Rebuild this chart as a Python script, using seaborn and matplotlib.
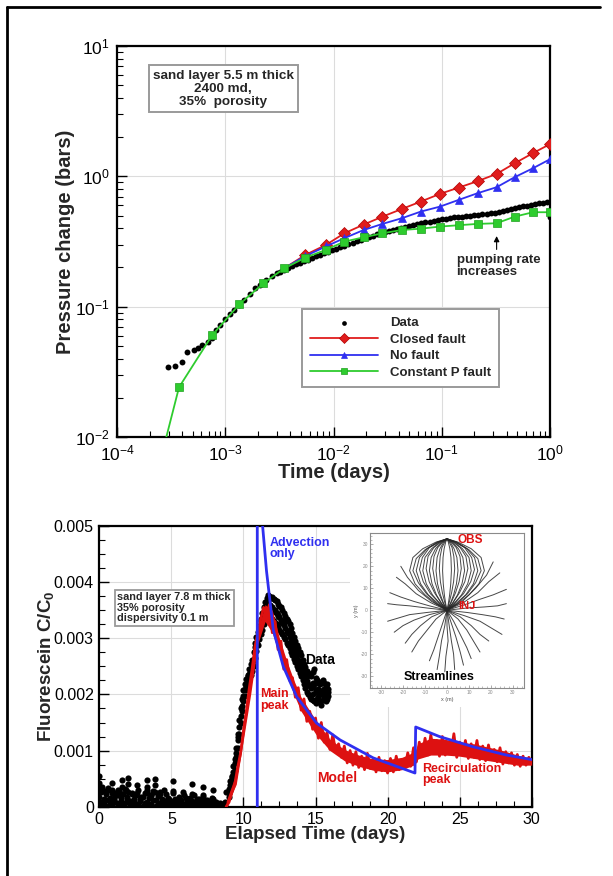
import matplotlib
matplotlib.use("Agg")
import matplotlib.pyplot as plt
from matplotlib.ticker import AutoMinorLocator, MultipleLocator, FuncFormatter
from matplotlib.patches import Rectangle
from matplotlib.lines import Line2D
import seaborn as sns

# ---------------- top panel: pressure change vs time ----------------
data_t = [2.94e-4, 3.43e-4, 4.0e-4, 4.46e-4, 5.14e-4, 5.56e-4, 6.05e-4, 6.97e-4,
          7.5e-4, 8.2e-4, 9.0e-4, 1.0e-3, 1.1e-3, 1.2e-3, 1.35e-3, 1.5e-3, 1.7e-3,
          1.9e-3, 2.1e-3, 2.4e-3, 2.7e-3, 3.0e-3,
          0.0032, 0.0035, 0.0038, 0.0041, 0.0045, 0.0049, 0.0053, 0.0058, 0.0063, 0.0069,
          0.0075, 0.0082, 0.0089, 0.0097, 0.0106, 0.0115, 0.0126, 0.0137, 0.0150, 0.0163,
          0.0178, 0.0194, 0.0211, 0.023, 0.025, 0.0273, 0.0298, 0.0325, 0.0354, 0.0386,
          0.042, 0.0458, 0.05, 0.0545, 0.0594, 0.0648, 0.0706, 0.077, 0.084, 0.0915,
          0.0998, 0.109, 0.119, 0.129, 0.141, 0.154, 0.168, 0.183, 0.2, 0.218,
          0.237, 0.259, 0.282, 0.307, 0.335, 0.365, 0.398, 0.434, 0.473, 0.516,
          0.562, 0.613, 0.668, 0.729, 0.794, 0.866, 0.944, 1.0, 1.0]
data_p = [0.0343, 0.0353, 0.0379, 0.0452, 0.0466, 0.0481, 0.0509, 0.054,
          0.058, 0.066, 0.072, 0.080, 0.088, 0.095, 0.103, 0.113, 0.126,
          0.138, 0.148, 0.160, 0.172, 0.180,
          0.186, 0.192, 0.198, 0.204, 0.211, 0.218, 0.224, 0.230, 0.236, 0.243,
          0.250, 0.257, 0.264, 0.271, 0.279, 0.286, 0.294, 0.302, 0.310, 0.318,
          0.326, 0.334, 0.343, 0.351, 0.359, 0.367, 0.375, 0.383, 0.390, 0.397,
          0.404, 0.411, 0.418, 0.425, 0.432, 0.438, 0.444, 0.450, 0.456, 0.462,
          0.468, 0.474, 0.479, 0.484, 0.488, 0.492, 0.496, 0.500, 0.504, 0.508,
          0.512, 0.516, 0.520, 0.524, 0.530, 0.538, 0.548, 0.558, 0.568, 0.578,
          0.588, 0.596, 0.604, 0.612, 0.620, 0.628, 0.634, 0.640, 0.49]

model_t = [3.5e-3, 5.5e-3, 8.5e-3, 0.0126, 0.019, 0.0283, 0.0429, 0.064, 0.096,
           0.143, 0.214, 0.321, 0.471, 0.697, 1.0]
closed_p = [0.197, 0.25, 0.298, 0.366, 0.427, 0.491, 0.563, 0.641, 0.734,
            0.820, 0.919, 1.045, 1.26, 1.51, 1.77]
nofault_p = [0.197, 0.245, 0.29, 0.336, 0.388, 0.432, 0.478, 0.537, 0.586,
             0.660, 0.743, 0.826, 0.986, 1.156, 1.355]

constp_t = [2.5e-4, 3.74e-4, 7.6e-4, 1.35e-3, 2.25e-3, 3.5e-3, 5.5e-3, 8.5e-3, 0.0126,
            0.019, 0.0283, 0.0429, 0.064, 0.096, 0.143, 0.214, 0.321, 0.471, 0.697, 1.0]
constp_p = [0.0065, 0.0241, 0.0608, 0.1045, 0.151, 0.197, 0.238, 0.273, 0.316,
            0.341, 0.366, 0.388, 0.397, 0.412, 0.422, 0.432, 0.437, 0.491, 0.531, 0.531]

# ---------------- bottom panel: tracer breakthrough (C/C0 in units of 1e-3) ----------------
# background noise before arrival
noise_day = [0.0, 0.15, 0.3, 0.45, 0.6, 0.75, 0.9, 1.05, 1.2, 1.35, 1.5, 1.65, 1.8, 1.95, 2.1,
             2.25, 2.4, 2.55, 2.7, 2.85, 3.0, 3.15, 3.3, 3.45, 3.6, 3.75, 3.9, 4.05, 4.2, 4.35,
             4.5, 4.65, 4.8, 4.95, 5.1, 5.25, 5.4, 5.55, 5.7, 5.85, 6.0, 6.15, 6.3, 6.45, 6.6,
             6.75, 6.9, 7.05, 7.2, 7.35, 7.5, 7.65, 7.8, 7.95, 8.1, 8.25, 8.4, 8.55, 8.7]
noise_low = [0.03, 0.08, 0.05, 0.12, 0.02, 0.09, 0.04, 0.15, 0.06, 0.03, 0.10, 0.02, 0.07, 0.13, 0.04,
             0.01, 0.09, 0.05, 0.03, 0.11, 0.02, 0.06, 0.08, 0.03, 0.05, 0.12, 0.02, 0.04, 0.07, 0.03,
             0.09, 0.02, 0.05, 0.03, 0.08, 0.01, 0.04, 0.06, 0.02, 0.05, 0.03, 0.01, 0.07, 0.02, 0.04,
             0.01, 0.03, 0.06, 0.02, 0.01, 0.04, 0.02, 0.03, 0.01, 0.02, 0.01, 0.03, 0.01, 0.02]
noise_mid = [0.18, 0.26, 0.14, 0.22, 0.30, 0.16, 0.24, 0.12, 0.20, 0.28, 0.15, 0.23, 0.32, 0.18, 0.11,
             0.25, 0.14, 0.20, 0.29, 0.13, 0.17, 0.24, 0.30, 0.15, 0.21, 0.28, 0.12, 0.19, 0.26, 0.14,
             0.10, 0.22, 0.16, 0.11, 0.25, 0.13, 0.09, 0.18, 0.12, 0.20, 0.15, 0.08, 0.16, 0.11, 0.21,
             0.09, 0.14, 0.10, 0.18, 0.08, 0.12, 0.06, 0.15, 0.07, 0.09, 0.05, 0.06, 0.04, 0.08]
# scattered spikes of the noise and the main peak
spike_day = [0.0, 0.0, 0.0, 0.2, 0.4, 0.6, 0.85, 0.85, 1.1, 1.3, 1.6, 1.6, 1.6, 1.85,
             2.0, 2.0, 2.0, 2.3, 2.6, 2.6, 2.9, 3.3, 3.3, 3.3, 3.6, 3.85, 3.85, 3.85,
             4.2, 4.5, 4.8, 5.1, 5.1, 5.5, 5.8, 6.1, 6.4, 6.4, 6.8, 7.2, 7.2, 7.5, 7.9, 7.9,
             8.8, 9.2, 9.5, 9.6, 10.35, 10.5, 10.8, 10.95, 11.25, 11.4, 11.55, 11.7, 11.85,
             12.0, 12.2, 12.4, 12.8, 13.2, 13.6, 14.0, 14.4, 14.8, 14.8, 15.0, 15.2, 15.4, 15.6, 15.8]
spike_c = [0.55, 0.42, 0.30, 0.35, 0.28, 0.33, 0.42, 0.30, 0.25, 0.30, 0.48, 0.36, 0.22, 0.30,
           0.52, 0.40, 0.26, 0.22, 0.38, 0.25, 0.18, 0.48, 0.36, 0.24, 0.20, 0.50, 0.38, 0.26,
           0.22, 0.30, 0.14, 0.45, 0.28, 0.12, 0.26, 0.10, 0.40, 0.22, 0.14, 0.36, 0.20, 0.10, 0.30, 0.14,
           0.27, 0.53, 0.89, 1.25, 2.32, 2.40, 2.85, 2.90, 3.30, 3.45, 3.55, 3.68, 3.60,
           3.55, 3.50, 3.42, 3.30, 3.15, 2.90, 2.60, 2.32, 2.20, 2.00, 2.05, 2.10, 2.00, 2.10, 2.02]
peak_day = [9.0, 9.1, 9.2, 9.3, 9.4, 9.5, 9.6, 9.7, 9.8, 9.9, 10.0, 10.1, 10.2, 10.3, 10.4,
            10.5, 10.6, 10.7, 10.8, 10.9, 11.0, 11.1, 11.2, 11.3, 11.4, 11.5, 11.6, 11.7, 11.8,
            11.9, 12.0, 12.1, 12.2, 12.3, 12.4, 12.5, 12.6, 12.7, 12.8, 12.9, 13.0, 13.1, 13.2,
            13.3, 13.4, 13.5, 13.6, 13.7, 13.8, 13.9, 14.0, 14.1, 14.2, 14.3, 14.4, 14.5, 14.6,
            14.7, 14.8, 14.9, 15.0, 15.1, 15.2, 15.3, 15.4, 15.5, 15.6, 15.7, 15.8, 15.9]
peak_hi = [0.32, 0.45, 0.55, 0.72, 0.85, 1.05, 1.30, 1.55, 1.75, 1.92, 2.08, 2.18, 2.28, 2.35, 2.45,
           2.55, 2.62, 2.75, 2.92, 3.02, 3.12, 3.22, 3.35, 3.45, 3.55, 3.65, 3.72, 3.78, 3.75,
           3.72, 3.74, 3.70, 3.68, 3.66, 3.62, 3.58, 3.55, 3.50, 3.45, 3.40, 3.35, 3.30, 3.25,
           3.18, 3.10, 3.02, 2.95, 2.88, 2.82, 2.75, 2.70, 2.62, 2.55, 2.48, 2.42, 2.38, 2.35,
           2.32, 2.40, 2.45, 2.30, 2.25, 2.20, 2.18, 2.22, 2.25, 2.20, 2.15, 2.18, 2.10]
peak_mid = [0.25, 0.38, 0.50, 0.62, 0.78, 0.95, 1.18, 1.42, 1.62, 1.80, 1.98, 2.10, 2.16, 2.26, 2.36,
            2.44, 2.55, 2.62, 2.78, 2.92, 3.00, 3.08, 3.22, 3.30, 3.42, 3.48, 3.58, 3.62, 3.58,
            3.55, 3.52, 3.50, 3.46, 3.45, 3.40, 3.38, 3.32, 3.28, 3.24, 3.18, 3.12, 3.10, 3.02,
            2.96, 2.90, 2.82, 2.76, 2.70, 2.62, 2.58, 2.50, 2.44, 2.36, 2.30, 2.24, 2.18, 2.15,
            2.12, 2.15, 2.18, 2.08, 2.05, 2.08, 2.02, 2.05, 2.08, 2.05, 2.00, 2.05, 2.04]
peak_lo = [0.18, 0.30, 0.40, 0.55, 0.65, 0.85, 1.05, 1.30, 1.50, 1.70, 1.88, 1.98, 2.08, 2.15, 2.25,
           2.35, 2.42, 2.50, 2.65, 2.78, 2.88, 2.98, 3.08, 3.15, 3.25, 3.32, 3.38, 3.42, 3.40,
           3.36, 3.35, 3.30, 3.28, 3.25, 3.20, 3.15, 3.12, 3.08, 3.02, 2.98, 2.92, 2.88, 2.82,
           2.76, 2.70, 2.64, 2.58, 2.50, 2.45, 2.38, 2.32, 2.25, 2.18, 2.12, 2.05, 2.00, 1.95,
           1.92, 1.90, 1.88, 1.85, 1.92, 1.95, 1.88, 1.82, 1.90, 1.95, 1.88, 1.92, 1.98]

# noisy model trace and the body of its band
model_day = [8.8, 9.0, 9.2, 9.4, 9.6, 9.8, 10.0, 10.2, 10.4, 10.6, 10.8, 11.0, 11.2, 11.4,
             11.6, 11.8, 12.0, 12.2, 12.4, 12.6, 12.8, 13.0, 13.2, 13.4, 13.6, 13.8, 14.0,
             14.2, 14.4, 14.6, 14.8, 15.0, 15.2, 15.4, 15.6, 15.8, 16.0, 16.2, 16.4, 16.6,
             16.8, 17.0, 17.2, 17.4, 17.6, 17.8, 18.0, 18.2, 18.4, 18.6, 18.8, 19.0, 19.2,
             19.4, 19.6, 19.8, 20.0, 20.2, 20.4, 20.6, 20.8, 21.0, 21.2, 21.4, 21.6, 21.8,
             22.0, 22.2, 22.4, 22.6, 22.8, 23.0, 23.2, 23.4, 23.6, 23.8, 24.0, 24.2, 24.4,
             24.6, 24.8, 25.0, 25.2, 25.4, 25.6, 25.8, 26.0, 26.2, 26.4, 26.6, 26.8, 27.0,
             27.2, 27.4, 27.6, 27.8, 28.0, 28.2, 28.4, 28.6, 28.8, 29.0, 29.2, 29.4, 29.6,
             29.8, 30.0]
model_c = [0.00, 0.08, 0.25, 0.40, 0.70, 0.95, 1.35, 1.70, 2.10, 2.45, 2.85, 3.10, 3.35, 3.55,
           3.40, 3.60, 3.10, 3.30, 2.80, 2.95, 2.45, 2.62, 2.25, 2.30, 1.95, 2.12, 1.72,
           1.92, 1.52, 1.70, 1.38, 1.58, 1.22, 1.50, 1.15, 1.32, 1.02, 1.28, 0.98, 1.12,
           0.88, 1.08, 0.78, 1.00, 0.74, 0.98, 0.70, 0.90, 0.66, 0.95, 0.68, 0.84, 0.62,
           0.88, 0.64, 0.82, 0.60, 0.86, 0.62, 0.90, 0.66, 0.84, 0.68, 0.96, 0.72, 1.05,
           0.80, 1.15, 0.90, 1.22, 0.92, 1.28, 0.95, 1.18, 0.90, 1.25, 0.92, 1.15, 0.95,
           1.30, 0.88, 1.15, 0.92, 1.18, 0.86, 1.12, 0.88, 1.18, 0.84, 1.08, 0.82, 1.10,
           0.84, 1.02, 0.80, 1.05, 0.76, 0.98, 0.78, 0.96, 0.74, 0.93, 0.72, 0.90, 0.74,
           0.88, 0.78]
band_day = [8.8, 9.5, 10.0, 10.5, 11.0, 11.5, 12.0, 12.5, 13.0, 13.5, 14.0, 15.0, 16.0, 17.0,
            18.0, 19.0, 20.0, 21.0, 21.9, 22.1, 23.0, 24.0, 25.0, 26.0, 27.0, 28.0, 29.0, 30.0]
band_lo = [0.0, 0.4, 1.2, 2.0, 2.9, 3.3, 3.1, 2.7, 2.35, 2.0, 1.7, 1.3, 1.0, 0.82,
           0.72, 0.65, 0.62, 0.66, 0.75, 0.85, 0.92, 0.92, 0.90, 0.86, 0.82, 0.78, 0.74, 0.74]
band_hi = [0.1, 0.6, 1.5, 2.3, 3.15, 3.6, 3.5, 3.0, 2.6, 2.25, 1.95, 1.55, 1.2, 1.02,
           0.92, 0.85, 0.84, 0.88, 0.98, 1.12, 1.22, 1.2, 1.15, 1.12, 1.06, 1.0, 0.92, 0.86]

advect_day = [10.96, 10.96, 11.33, 11.6, 12.07, 12.76, 13.69, 15.07, 16.7, 19.0, 21.9,
              21.95, 23.6, 25.9, 28.25, 30.0]
advect_c = [0.0, 12.0, 5.0, 4.2, 3.15, 2.5, 1.96, 1.49, 1.19, 0.87, 0.60, 1.42, 1.25, 1.07,
            0.92, 0.84]

# streamlines in the inset (x, y in metres)
stream_x = [
    [0, -5, -10, -14.5, -17, -15.5, -11, -5, 0],
    [0, -4.5, -9.3, -13, -15.5, -14, -10, -4.5, 0],
    [0, -4, -8.5, -12, -14, -12.5, -9, -4, 0],
    [0, -3.6, -7.5, -10.8, -12.5, -11.2, -8, -3.6, 0],
    [0, -3.3, -6.6, -9.4, -11, -10, -7, -3.3, 0],
    [0, -2.8, -5.7, -8.1, -9.5, -8.6, -6, -2.8, 0],
    [0, -2.4, -4.8, -6.8, -8, -7.2, -5.2, -2.4, 0],
    [0, -1.9, -3.9, -5.5, -6.5, -5.9, -4.2, -1.9, 0],
    [0, -1.5, -3, -4.3, -5, -4.5, -3.2, -1.5, 0],
    [0, -1, -2.1, -3, -3.5, -3.1, -2.3, -1, 0],
    [0, -0.6, -1.2, -1.7, -2, -1.8, -1.3, -0.6, 0],
    [0, 0.6, 1.2, 1.7, 2, 1.8, 1.3, 0.6, 0],
    [0, 1, 2.1, 3, 3.5, 3.1, 2.3, 1, 0],
    [0, 1.5, 3, 4.3, 5, 4.5, 3.2, 1.5, 0],
    [0, 1.9, 3.9, 5.5, 6.5, 5.9, 4.2, 1.9, 0],
    [0, 2.4, 4.8, 6.8, 8, 7.2, 5.2, 2.4, 0],
    [0, 2.8, 5.7, 8.1, 9.5, 8.6, 6, 2.8, 0],
    [0, 3.3, 6.6, 9.4, 11, 10, 7, 3.3, 0],
    [0, 3.6, 7.5, 10.8, 12.5, 11.2, 8, 3.6, 0],
    [0, 4, 8.5, 12, 14, 12.5, 9, 4, 0],
    [0, 4.5, 9.3, 13, 15.5, 14, 10, 4.5, 0],
    [0, 5, 10, 14.5, 17, 15.5, 11, 5, 0],
    [0, -7, -13, -18, -21], [0, -7.5, -14, -19, -23], [0, 7, 13, 18, 21], [0, 7.5, 14, 19, 24],
    [0, -8, -15, -21, -26], [0, -9, -17, -23, -27], [0, -9, -17, -22, -27],
    [0, -8, -15, -20, -24], [0, -7, -12, -16, -19], [0, -5, -9, -13, -16],
    [0, 8, 15, 21, 27], [0, 9, 17, 23, 27], [0, 9, 16, 22, 26],
    [0, 8, 15, 20, 25], [0, 6, 11, 15, 19], [0, 5, 9, 12, 15],
    [0, -2, -4, -6, -8], [0, -1, -2.5, -3.5, -4.5], [0, 0, 0.5, -0.5, -1],
    [0, 1, 2, 3, 3.5], [0, 2, 4, 6, 7.5], [0, 3, 6, 9, 11],
]
stream_y = [
    [0, 3, 7, 12, 18, 24, 28, 31, 32.5],
    [0, 3, 7.5, 12.5, 18, 23.5, 27.5, 31, 32.5],
    [0, 3, 7, 12, 18, 24, 28, 31, 32.5],
    [0, 3.5, 7.5, 13, 18.5, 24, 28.5, 31, 32.5],
    [0, 3, 7, 12, 18, 24, 28, 31, 32.5],
    [0, 3.5, 8, 13, 19, 24.5, 28.5, 31, 32.5],
    [0, 3, 7, 12, 18, 24, 28, 31, 32.5],
    [0, 3.5, 8, 13, 19, 24.5, 28.5, 31, 32.5],
    [0, 3, 7, 12, 18, 24, 28, 31, 32.5],
    [0, 3.5, 8, 13, 19, 24.5, 28.5, 31, 32.5],
    [0, 3, 7, 12, 18, 24, 28, 31, 32.5],
    [0, 3, 7, 12, 18, 24, 28, 31, 32.5],
    [0, 3.5, 8, 13, 19, 24.5, 28.5, 31, 32.5],
    [0, 3, 7, 12, 18, 24, 28, 31, 32.5],
    [0, 3.5, 8, 13, 19, 24.5, 28.5, 31, 32.5],
    [0, 3, 7, 12, 18, 24, 28, 31, 32.5],
    [0, 3.5, 8, 13, 19, 24.5, 28.5, 31, 32.5],
    [0, 3, 7, 12, 18, 24, 28, 31, 32.5],
    [0, 3.5, 7.5, 13, 18.5, 24, 28.5, 31, 32.5],
    [0, 3, 7, 12, 18, 24, 28, 31, 32.5],
    [0, 3, 7.5, 12.5, 18, 23.5, 27.5, 31, 32.5],
    [0, 3, 7, 12, 18, 24, 28, 31, 32.5],
    [0, 4, 9, 15, 20], [0, 3.5, 7.5, 12, 15], [0, 4, 10, 16, 22], [0, 3.5, 8, 13, 17],
    [0, 2, 4, 6, 8], [0, 1, 2, 2.5, 3], [0, -1, -2, -3.5, -5],
    [0, -2, -4.5, -7, -10], [0, -3, -7, -11, -15], [0, -4, -9, -14, -19],
    [0, 2.5, 5, 7, 9.5], [0, 1, 1.5, 2, 3], [0, -1, -2, -3, -4],
    [0, -2.5, -5, -8, -11], [0, -3, -7, -11, -14], [0, -4, -9, -14, -19],
    [0, -6, -12, -18, -23], [0, -7, -14, -21, -27], [0, -7, -14, -21, -28],
    [0, -7, -14, -20, -27], [0, -6, -12, -19, -25], [0, -5, -11, -17, -22],
]

# ---------------- style ----------------
sns.set_theme(style="whitegrid")
plt.rcParams['font.family'] = ['Liberation Sans', 'DejaVu Sans']
plt.rcParams['mathtext.fontset'] = 'custom'
plt.rcParams['mathtext.rm'] = 'Liberation Sans'
plt.rcParams['mathtext.bf'] = 'Liberation Sans:bold'
plt.rcParams['axes.unicode_minus'] = False

RED = '#e01c1c'
BLUE = '#2f2ff0'
GREEN = '#2ecc2e'
MODEL_RED = '#dd1111'

fig = plt.figure(figsize=(6.13, 8.76), dpi=100)

# page frame
fig.add_artist(Line2D([0.0114, 0.0114], [-0.01, 0.992], transform=fig.transFigure, color='black', lw=2))
fig.add_artist(Line2D([0.0114, 0.979], [0.992, 0.992], transform=fig.transFigure, color='black', lw=2))


def style_axes(ax):
    for sp in ax.spines.values():
        sp.set_color('black')
        sp.set_linewidth(1.6)
    ax.grid(True, which='major', color='#dcdcdc', lw=0.8)
    ax.tick_params(which='both', direction='in', bottom=True, left=True, top=False, right=False,
                   colors='black')
    ax.tick_params(which='major', length=7, width=1)
    ax.tick_params(which='minor', length=4, width=0.8)


# ---- top axes ----
ax1 = fig.add_axes([0.1909, 0.5011, 0.7064, 0.4463])
ax1.set_xscale('log')
ax1.set_yscale('log')
sns.scatterplot(x=data_t, y=data_p, ax=ax1, color='black', s=18, linewidth=0, label='Data', zorder=3)
sns.lineplot(x=model_t, y=closed_p, ax=ax1, color=RED, lw=1.3, marker='D', markersize=6,
             markeredgecolor='#b00000', markeredgewidth=0.5, markevery=slice(1, None),
             estimator=None, sort=False, label='Closed fault', zorder=4)
sns.lineplot(x=model_t, y=nofault_p, ax=ax1, color=BLUE, lw=1.3, marker='^', markersize=6,
             markeredgecolor=BLUE, markeredgewidth=0.5, markevery=slice(1, None),
             estimator=None, sort=False, label='No fault', zorder=4)
sns.lineplot(x=constp_t, y=constp_p, ax=ax1, color=GREEN, lw=1.3, marker='s', markersize=5.5,
             markeredgecolor='#1fa01f', markeredgewidth=0.5,
             estimator=None, sort=False, label='Constant P fault', zorder=5)
ax1.set_xlim(1e-4, 1)
ax1.set_ylim(1e-2, 1e1)
style_axes(ax1)
ax1.tick_params(labelsize=12.5, pad=5)
ax1.set_xlabel('Time (days)', fontsize=14.5, fontweight='bold')
ax1.set_ylabel('Pressure change (bars)', fontsize=14.5, fontweight='bold')
ax1.xaxis.set_label_coords(0.5, -0.066)
ax1.yaxis.set_label_coords(-0.097, 0.5)

ax1.text(0.245, 0.8905, 'sand layer 5.5 m thick\n2400 md,\n35%  porosity', transform=ax1.transAxes,
         ha='center', va='center', fontsize=9.7, fontweight='bold', linespacing=1.15, zorder=6,
         bbox=dict(boxstyle='square,pad=0.3', facecolor='white', edgecolor='#9a9a9a', lw=1.4))

ax1.annotate('', xy=(0.321, 0.366), xytext=(0.321, 0.262),
             arrowprops=dict(arrowstyle='-|>', color='black', lw=0.8, mutation_scale=8))
ax1.text(0.137, 0.255, 'pumping rate\nincreases', ha='left', va='top', fontsize=9.5,
         fontweight='bold', linespacing=1.05)

handles, labels = ax1.get_legend_handles_labels()
leg = ax1.legend(handles, labels, loc='upper left', bbox_to_anchor=(0.427, 0.327),
                 frameon=True, fancybox=False, framealpha=1, edgecolor='#9a9a9a',
                 prop={'weight': 'bold', 'size': 9.5}, handlelength=5.2, handletextpad=0.9,
                 labelspacing=0.32, borderpad=0.6, borderaxespad=0, scatterpoints=1, numpoints=1,
                 markerscale=0.8)
leg.get_frame().set_linewidth(1.4)
leg.set_zorder(10)

# ---- bottom axes ----
ax2 = fig.add_axes([0.162, 0.0791, 0.7054, 0.3204])
obs_day = noise_day + noise_day + spike_day + peak_day + peak_day + peak_day
obs_c = [v / 1000 for v in noise_low + noise_mid + spike_c + peak_hi + peak_mid + peak_lo]
sns.scatterplot(x=obs_day, y=obs_c, ax=ax2, color='black', s=20, linewidth=0, zorder=3)
ax2.fill_between(band_day, [v / 1000 for v in band_lo], [v / 1000 for v in band_hi],
                 color=MODEL_RED, linewidth=0, zorder=4)
sns.lineplot(x=model_day, y=[v / 1000 for v in model_c], ax=ax2, color=MODEL_RED, lw=2.0,
             estimator=None, sort=False, zorder=4)
sns.lineplot(x=advect_day, y=[v / 1000 for v in advect_c], ax=ax2, color=BLUE, lw=2.0,
             estimator=None, sort=False, zorder=5)
ax2.set_xlim(0, 30)
ax2.set_ylim(0, 0.005)
ax2.xaxis.set_major_locator(MultipleLocator(5))
ax2.yaxis.set_major_locator(MultipleLocator(0.001))
ax2.xaxis.set_minor_locator(AutoMinorLocator(4))
ax2.yaxis.set_minor_locator(AutoMinorLocator(4))
ax2.yaxis.set_major_formatter(FuncFormatter(lambda v, p: '0' if abs(v) < 1e-9 else f'{v:.3f}'))
style_axes(ax2)
ax2.tick_params(labelsize=11.5, pad=4)
ax2.set_xlabel('Elapsed Time (days)', fontsize=13.5, fontweight='bold')
ax2.set_ylabel(r'Fluorescein C/C$_\mathbf{0}$', fontsize=13.5, fontweight='bold')
ax2.xaxis.set_label_coords(0.5, -0.069)
ax2.yaxis.set_label_coords(-0.098, 0.5)

# white area behind the inset
ax2.add_patch(Rectangle((17.4, 0.00178), 12.6, 0.0033, facecolor='white', edgecolor='none', zorder=1))

ax2.text(1.25, 0.003542, 'sand layer 7.8 m thick\n35% porosity\ndispersivity 0.1 m', ha='left',
         va='center', fontsize=7.8, fontweight='bold', linespacing=1.05, zorder=6,
         bbox=dict(boxstyle='square,pad=0.25', facecolor='white', edgecolor='#9a9a9a', lw=1.3))
ax2.text(11.84, 0.0046, 'Advection\nonly', ha='left', va='center', fontsize=9, fontweight='bold',
         color=BLUE, linespacing=0.95, zorder=6)
ax2.text(14.27, 0.00262, 'Data', ha='left', va='center', fontsize=10, fontweight='bold',
         color='black', zorder=6)
ax2.text(11.15, 0.0019, 'Main\npeak', ha='left', va='center', fontsize=9, fontweight='bold',
         color=MODEL_RED, linespacing=0.95, zorder=6)
ax2.text(15.08, 0.00051, 'Model', ha='left', va='center', fontsize=10, fontweight='bold',
         color=MODEL_RED, zorder=6)
ax2.text(22.43, 0.00057, 'Recirculation\npeak', ha='left', va='center', fontsize=9,
         fontweight='bold', color=MODEL_RED, linespacing=0.95, zorder=6)

# ---- inset: streamlines ----
ax3 = fig.add_axes([0.6036, 0.2143, 0.2512, 0.1769])
ax3.set_facecolor('white')
for sx, sy in zip(stream_x, stream_y):
    sns.lineplot(x=sx, y=sy, ax=ax3, color='#262626', lw=0.7, estimator=None, sort=False, alpha=0.85)
ax3.set_xlim(-35, 35)
ax3.set_ylim(-35.5, 35)
ax3.grid(False)
for sp in ax3.spines.values():
    sp.set_color('#8a8a8a')
    sp.set_linewidth(0.8)
ax3.xaxis.set_major_locator(MultipleLocator(10))
ax3.yaxis.set_major_locator(MultipleLocator(10))
ax3.xaxis.set_minor_locator(AutoMinorLocator(5))
ax3.yaxis.set_minor_locator(AutoMinorLocator(5))
ax3.tick_params(which='both', direction='in', bottom=True, left=True, top=False, right=False,
                colors='#8a8a8a', labelsize=3.5, pad=1.5)
ax3.tick_params(which='major', length=2.5, width=0.5)
ax3.tick_params(which='minor', length=1.2, width=0.4)
ax3.set_xlabel('x (m)', fontsize=4, color='#555555', labelpad=1)
ax3.set_ylabel('y (m)', fontsize=4, color='#555555', labelpad=1)
ax3.text(5, 32, 'OBS', color=MODEL_RED, fontsize=8.5, fontweight='bold', ha='left', va='center')
ax3.text(5, 2, 'INJ', color=MODEL_RED, fontsize=8, fontweight='bold', ha='left', va='center')
ax3.text(-3.5, -30.5, 'Streamlines', color='black', fontsize=9, fontweight='bold', ha='center',
         va='center')

fig.savefig('out.png', dpi=100)
